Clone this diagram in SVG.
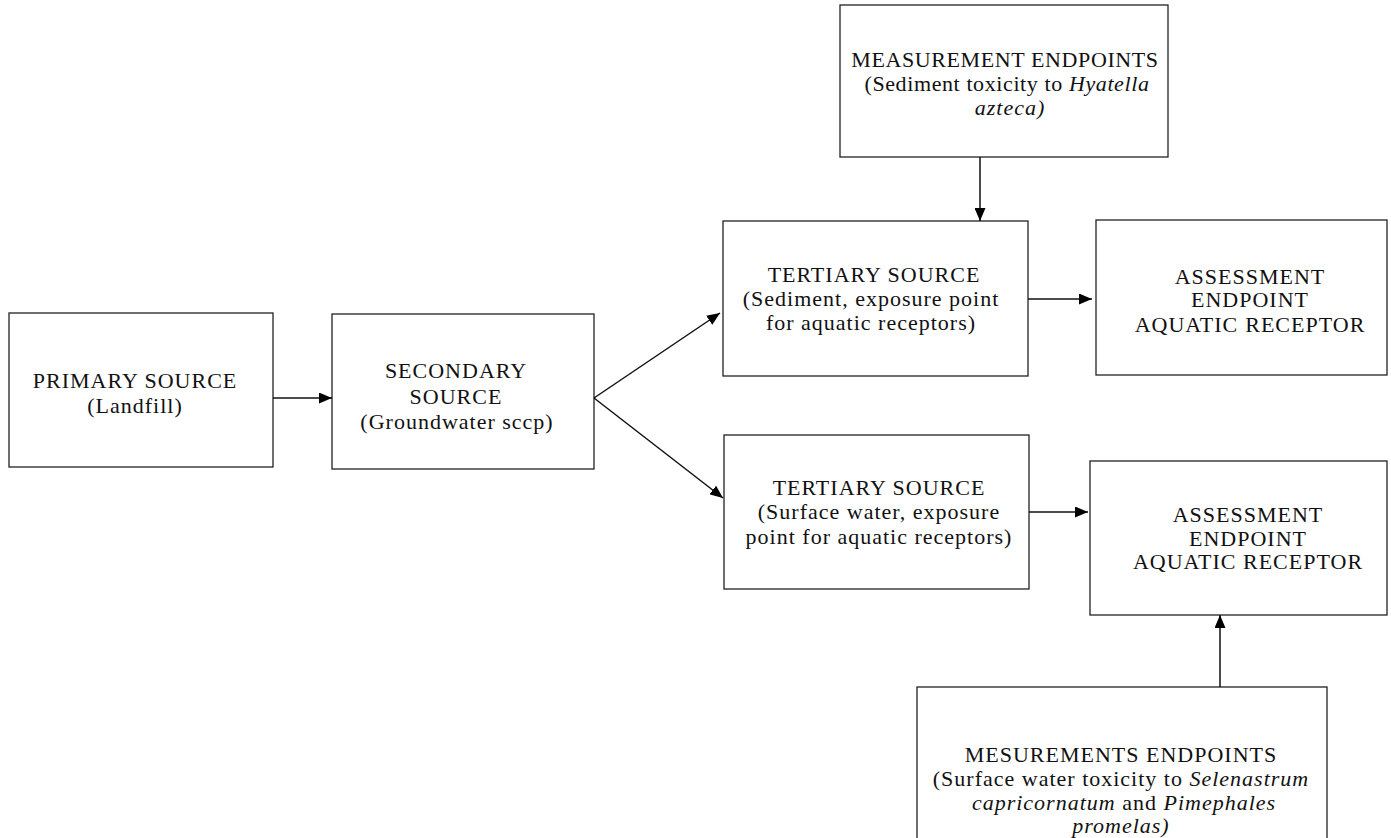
<svg xmlns="http://www.w3.org/2000/svg" width="1391" height="838" viewBox="0 0 1391 838">
<style>
.box{fill:#fff;stroke:#222;stroke-width:1.3}
.t{font-family:"Liberation Serif","Times New Roman",serif;font-size:22px;fill:#111;text-anchor:middle;letter-spacing:1px}
.n{letter-spacing:0.6px}
.i{font-style:italic}
.c{stroke:#111;stroke-width:1.5;fill:none}
</style>
<defs>
<marker id="ah" viewBox="0 0 13 11" refX="13" refY="5.5" markerWidth="13" markerHeight="11" markerUnits="userSpaceOnUse" orient="auto">
<path d="M0,0 L13,5.5 L0,11 Z" fill="#000"/>
</marker>
</defs>
<rect width="1391" height="838" fill="#fff"/>
<g id="primary">
<rect class="box" x="9" y="313" width="264" height="154"/>
<text class="t" x="135" y="388">PRIMARY SOURCE</text>
<text class="t" x="135" y="413">(Landfill)</text>
</g>
<g id="secondary">
<rect class="box" x="332" y="314" width="262" height="155"/>
<text class="t" x="456" y="378">SECONDARY</text>
<text class="t" x="456" y="404">SOURCE</text>
<text class="t" x="457" y="429">(Groundwater sccp)</text>
</g>
<g id="measurement-top">
<rect class="box" x="840" y="5" width="328" height="152"/>
<text class="t n" x="1005" y="67">MEASUREMENT ENDPOINTS</text>
<text class="t n" x="1007" y="91">(Sediment toxicity to <tspan class="i">Hyatella</tspan></text>
<text class="t i" x="1010" y="115">azteca)</text>
</g>
<g id="tertiary-sediment">
<rect class="box" x="723" y="221" width="305" height="155"/>
<text class="t" x="874" y="282">TERTIARY SOURCE</text>
<text class="t" x="871" y="306">(Sediment, exposure point</text>
<text class="t" x="871" y="330">for aquatic receptors)</text>
</g>
<g id="assessment-1">
<rect class="box" x="1096" y="220" width="291" height="155"/>
<text class="t" x="1250" y="284">ASSESSMENT</text>
<text class="t" x="1250" y="307">ENDPOINT</text>
<text class="t" x="1250" y="332">AQUATIC<tspan dx="7">RECEPTOR</tspan></text>
</g>
<g id="tertiary-surface">
<rect class="box" x="724" y="435" width="305" height="154"/>
<text class="t" x="879" y="495">TERTIARY SOURCE</text>
<text class="t" x="879" y="519">(Surface water, exposure</text>
<text class="t" x="879" y="544">point for aquatic receptors)</text>
</g>
<g id="assessment-2">
<rect class="box" x="1090" y="461" width="297" height="154"/>
<text class="t" x="1248" y="522">ASSESSMENT</text>
<text class="t" x="1248" y="546">ENDPOINT</text>
<text class="t" x="1248" y="569">AQUATIC RECEPTOR</text>
</g>
<g id="measurement-bottom">
<rect class="box" x="917" y="687" width="410" height="160"/>
<text class="t" x="1121" y="762">MESUREMENTS ENDPOINTS</text>
<text class="t" x="1121" y="786">(Surface water toxicity to <tspan class="i">Selenastrum</tspan></text>
<text class="t" x="1124" y="810"><tspan class="i">capricornatum</tspan> and <tspan class="i">Pimephales</tspan></text>
<text class="t i" x="1121" y="833">promelas)</text>
</g>
<g id="connectors">
<line class="c" x1="273" y1="398" x2="332" y2="398" marker-end="url(#ah)"/>
<line class="c" x1="594" y1="398" x2="720" y2="313" marker-end="url(#ah)"/>
<line class="c" x1="594" y1="398" x2="723" y2="498" marker-end="url(#ah)"/>
<line class="c" x1="980" y1="157" x2="980" y2="221" marker-end="url(#ah)"/>
<line class="c" x1="1028" y1="299" x2="1092" y2="299" marker-end="url(#ah)"/>
<line class="c" x1="1029" y1="512" x2="1088" y2="512" marker-end="url(#ah)"/>
<line class="c" x1="1220" y1="687" x2="1220" y2="615" marker-end="url(#ah)"/>
</g>
</svg>
